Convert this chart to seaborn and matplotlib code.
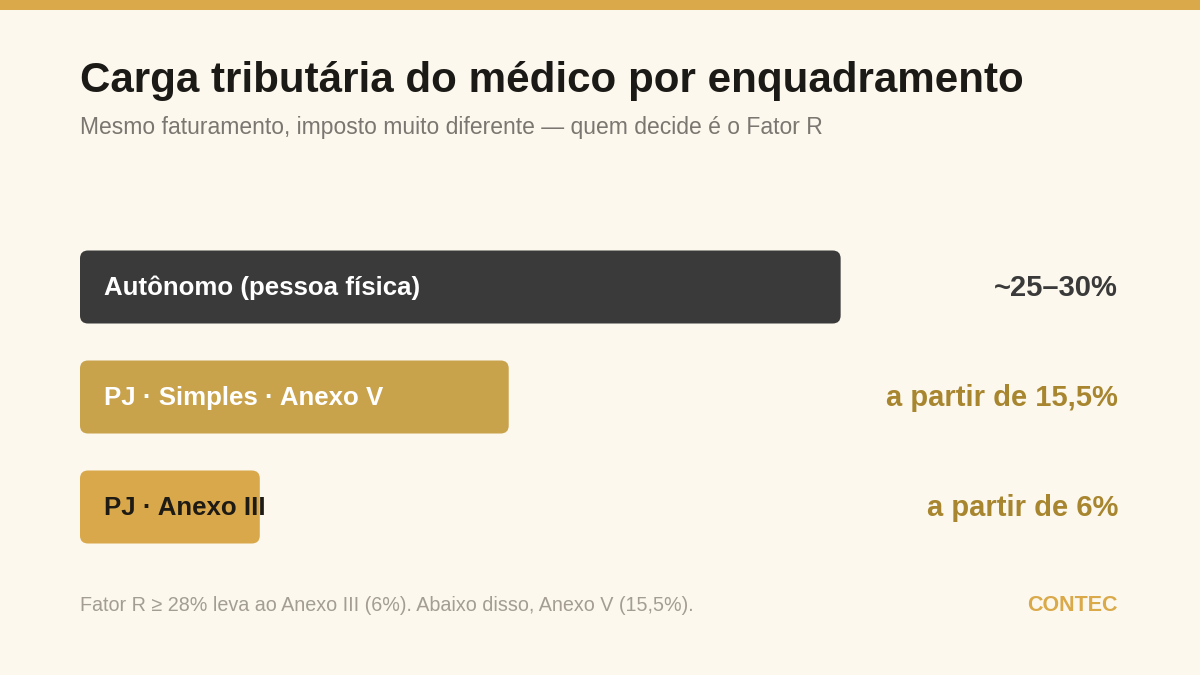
import matplotlib
matplotlib.use("Agg")
import matplotlib.pyplot as plt
import seaborn as sns
import pandas as pd
from matplotlib.patches import FancyBboxPatch, Rectangle

# dados
categorias = ["Autônomo (pessoa física)", "PJ · Simples · Anexo V", "PJ · Anexo III"]
carga = [27.5, 15.5, 6.5]          # comprimento da barra (% aproximado)
rotulos = ["~25–30%", "a partir de 15,5%", "a partir de 6%"]

cores_barra = ["#3A3A3A", "#C9A24C", "#D9A84A"]
cores_texto_barra = ["#FFFFFF", "#FFFFFF", "#1E1A14"]
cores_valor = ["#3A3A3A", "#A8862F", "#A8862F"]

FUNDO = "#FCF8EE"
OURO = "#D9A94A"


def desenhar():
    sns.set_theme(style="white")
    plt.rcParams["font.family"] = ["Liberation Sans", "DejaVu Sans"]

    fig = plt.figure(figsize=(12, 6.75), dpi=100)
    fig.patch.set_facecolor(FUNDO)

    # faixa dourada no topo
    fig.patches.append(Rectangle((0, 1 - 10 / 675), 1, 10 / 675, transform=fig.transFigure,
                                 facecolor=OURO, edgecolor="none"))

    W, H = 1200, 675
    ax = fig.add_axes([80 / W, 1 - 562 / H, 1040 / W, 330 / H])
    ax.set_facecolor(FUNDO)

    df = pd.DataFrame({"categoria": categorias, "carga": carga})
    sns.barplot(data=df, x="carga", y="categoria", hue="categoria", palette=cores_barra,
                width=73 / 110, legend=False, ax=ax, saturation=1)
    ax.set_xlim(0, 37.6)
    ax.set_ylim(2.5, -0.5)

    # troca retângulos por barras arredondadas
    px_x = 37.6 / 1040
    px_y = 3 / 330
    raio = 8 * px_x
    for p in list(ax.patches):
        x, y = p.get_x(), p.get_y()
        w, h = p.get_width(), p.get_height()
        cor = p.get_facecolor()
        p.remove()
        ax.add_patch(FancyBboxPatch((x, y), w, h,
                                    boxstyle=f"round,pad=0,rounding_size={raio}",
                                    mutation_aspect=px_y / px_x,
                                    facecolor=cor, edgecolor="none"))

    for i, cat in enumerate(categorias):
        ax.text(24 / 1040, i + 0.01, cat, transform=ax.get_yaxis_transform(), ha="left",
                va="center", fontsize=18.6, fontweight="bold", color=cores_texto_barra[i])
        ax.text(1038 / 1040, i + 0.01, rotulos[i], transform=ax.get_yaxis_transform(), ha="right",
                va="center", fontsize=21, fontweight="bold", color=cores_valor[i])

    ax.set_axis_off()

    fig.text(80 / W, 1 - 92 / H, "Carga tributária do médico por enquadramento",
             fontsize=30.3, fontweight="bold", color="#1C1A17", va="baseline", ha="left")
    fig.text(80 / W, 1 - 134 / H,
             "Mesmo faturamento, imposto muito diferente — quem decide é o Fator R",
             fontsize=16.5, color="#7A7670", va="baseline", ha="left")
    fig.text(80 / W, 1 - 611 / H,
             "Fator R ≥ 28% leva ao Anexo III (6%). Abaixo disso, Anexo V (15,5%).",
             fontsize=14.2, color="#A39D93", va="baseline", ha="left")
    fig.text(1118 / W, 1 - 611 / H, "CONTEC", fontsize=15.5, fontweight="bold",
             color=OURO, va="baseline", ha="right")

    fig.savefig("out.png", dpi=100, facecolor=FUNDO)


if __name__ == "__main__":
    desenhar()
